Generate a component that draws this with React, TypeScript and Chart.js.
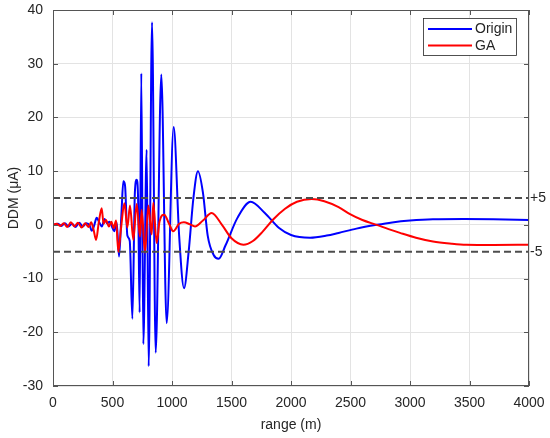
import React, { useEffect, useRef } from "react";
import { Chart, registerables } from "chart.js";

Chart.register(...registerables);

// ---- data ----
const originX = [0, 40, 70, 100, 130, 160, 190, 220, 250, 280, 310, 325, 345, 367, 390, 410, 434, 455, 475, 495, 515, 535, 555, 575, 591, 605, 625, 645, 667, 688, 703, 716, 728, 742, 759, 787, 804, 832, 863, 910, 955, 1014, 1060, 1101, 1140, 1180, 1218, 1260, 1300, 1350, 1392, 1450, 1550, 1661, 1780, 1900, 2000, 2160, 2300, 2400, 2550, 2720, 2850, 3000, 3193, 3450, 3700, 4000];
const originY = [0, 0.2, -0.2, 0.3, -0.3, 0.2, -0.4, 0.4, -0.3, 0.3, -0.2, -1.1, -0.2, 1.3, 0.4, -0.3, 1.1, 0.3, 0.6, -0.3, -1.2, 0.5, -5.9, 2, 8.1, 7.4, -2, -3, -17.5, 6, 8.4, 4, -16.3, 28.2, -22.2, 14, -26.3, 37.7, -23.8, 28, -18.3, 18.2, -2, -11.8, -5, 5, 10, 6, -2, -5.6, -6.3, -3.8, 1.3, 4.3, 2.2, -0.6, -1.9, -2.4, -2.0, -1.5, -0.7, 0, 0.45, 0.8, 1.05, 1.1, 1.05, 0.9];

const gaX = [0, 30, 60, 90, 120, 150, 180, 210, 240, 270, 300, 320, 340, 362, 385, 409, 425, 445, 470, 490, 510, 530, 549, 570, 600, 625, 647, 675, 703, 731, 745, 773, 801, 829, 843, 871, 895, 935, 975, 1011, 1060, 1100, 1150, 1193, 1260, 1333, 1420, 1500, 1600, 1680, 1760, 1850, 1950, 2050, 2174, 2280, 2400, 2496, 2600, 2720, 2820, 2916, 3050, 3193, 3350, 3473, 3700, 4000];
const gaY = [0, 0.2, -0.2, 0.3, -0.4, 0.5, -0.3, 0.4, -0.5, 0.3, -0.4, 0.5, -0.8, -2.8, 0.5, 3.1, 0.2, 0.9, -0.3, 0.6, -0.6, 0.8, -5.0, -1, 4.0, -0.5, 3.6, -2.8, 3.9, -2.2, 2.8, -5.2, 3.6, -1.8, 4.1, -3.4, 0.6, 1.9, 0.2, -1.2, 0.2, 0.5, 0.1, -0.3, 0.8, 2.2, 0, -2.5, -3.7, -3.0, -1.3, 1.0, 3.0, 4.3, 4.8, 4.4, 3.3, 2.0, 0.9, 0, -0.8, -1.5, -2.4, -3.1, -3.5, -3.7, -3.75, -3.7];

const limitValues = [5, -5];
const xRange = [0, 4000];
const yRange = [-30, 40];
const seriesLabels = ["Origin", "GA"];

const FONT = "'Liberation Sans', Arial, Helvetica, sans-serif";
const TEXT = "#262626";

const zeroPad = (s: any) => {
  s.paddingTop = 0;
  s.paddingBottom = 0;
  s.paddingLeft = 0;
  s.paddingRight = 0;
};

const framePlugin = {
  id: "frame",
  afterDatasetsDraw(chart: any) {
    const { ctx, chartArea: a, scales } = chart;
    ctx.save();
    ctx.strokeStyle = "#555555";
    ctx.lineWidth = 1;
    ctx.strokeRect(a.left + 0.5, a.top + 0.5, a.right - a.left - 1, a.bottom - a.top - 1);
    const tl = 5;
    ctx.beginPath();
    scales.x.ticks.forEach((t: any) => {
      const px = Math.round(scales.x.getPixelForValue(t.value)) + 0.5;
      ctx.moveTo(px, a.bottom);
      ctx.lineTo(px, a.bottom - tl);
      ctx.moveTo(px, a.top);
      ctx.lineTo(px, a.top + tl);
    });
    scales.y.ticks.forEach((t: any) => {
      const py = Math.round(scales.y.getPixelForValue(t.value)) + 0.5;
      ctx.moveTo(a.left, py);
      ctx.lineTo(a.left + tl, py);
      ctx.moveTo(a.right, py);
      ctx.lineTo(a.right - tl, py);
    });
    ctx.stroke();
    ctx.restore();
  },
  afterDraw(chart: any) {
    const { ctx, chartArea: a } = chart;
    const bx = a.right - 106;
    const by = a.top + 8;
    const bw = 93;
    const bh = 37;
    ctx.save();
    ctx.fillStyle = "#ffffff";
    ctx.fillRect(bx, by, bw, bh);
    ctx.strokeStyle = "#262626";
    ctx.lineWidth = 0.8;
    ctx.strokeRect(bx + 0.5, by + 0.5, bw, bh);
    ctx.font = `14px ${FONT}`;
    ctx.textBaseline = "middle";
    ctx.textAlign = "left";
    [0, 1].forEach((i) => {
      const ds = chart.data.datasets[i];
      const y = by + 11 + i * 16.5;
      ctx.strokeStyle = ds.borderColor;
      ctx.lineWidth = 2;
      ctx.beginPath();
      ctx.moveTo(bx + 5, y);
      ctx.lineTo(bx + 49, y);
      ctx.stroke();
      ctx.fillStyle = TEXT;
      ctx.fillText(ds.label, bx + 52, y + 0.5);
    });
    ctx.restore();
  },
};

export default function App() {
  const ref = useRef<HTMLCanvasElement | null>(null);

  useEffect(() => {
    if (!ref.current) return;
    const origin = originX.map((x, i) => ({ x, y: originY[i] }));
    const ga = gaX.map((x, i) => ({ x, y: gaY[i] }));
    const limits = limitValues.map((v) => ({
      label: `limit ${v}`,
      data: [
        { x: xRange[0], y: v },
        { x: xRange[1], y: v },
      ],
      borderColor: "#4d4d4d",
      borderWidth: 2,
      borderDash: [7, 4],
      pointRadius: 0,
      order: 0,
    }));

    const chart = new Chart(ref.current, {
      type: "line",
      data: {
        datasets: [
          {
            label: seriesLabels[0],
            data: origin,
            borderColor: "#0000ff",
            borderWidth: 2,
            pointRadius: 0,
            cubicInterpolationMode: "monotone",
            order: 2,
          },
          {
            label: seriesLabels[1],
            data: ga,
            borderColor: "#ff0000",
            borderWidth: 2,
            pointRadius: 0,
            cubicInterpolationMode: "monotone",
            order: 1,
          },
          ...limits,
        ] as any,
      },
      options: {
        responsive: false,
        animation: false,
        layout: { padding: { left: 6, right: 0, top: 10, bottom: 4 } },
        plugins: {
          legend: { display: false },
          tooltip: { enabled: false },
        },
        scales: {
          x: {
            type: "linear",
            min: xRange[0],
            max: xRange[1],
            afterFit: (s: any) => {
              s.height = 48;
              zeroPad(s);
            },
            ticks: {
              stepSize: 500,
              padding: 9,
              color: TEXT,
              font: { family: FONT, size: 14 },
              maxRotation: 0,
              callback: (v: any) => String(v),
            },
            grid: { color: "#e3e3e3", drawTicks: false, lineWidth: 1 },
            border: { display: false },
            title: {
              display: true,
              text: "range (m)",
              color: TEXT,
              font: { family: FONT, size: 14 },
              padding: { top: 0, bottom: 0 },
            },
          },
          y: {
            type: "linear",
            position: "left",
            min: yRange[0],
            max: yRange[1],
            afterFit: (s: any) => {
              s.width = 47;
              zeroPad(s);
            },
            ticks: {
              stepSize: 10,
              padding: 10,
              color: TEXT,
              font: { family: FONT, size: 14 },
            },
            grid: { color: "#e3e3e3", drawTicks: false, lineWidth: 1 },
            border: { display: false },
            title: {
              display: true,
              text: "DDM (μA)",
              color: TEXT,
              font: { family: FONT, size: 14 },
              padding: { top: 0, bottom: 0 },
            },
          },
          y2: {
            type: "linear",
            position: "right",
            min: yRange[0],
            max: yRange[1],
            afterFit: (s: any) => {
              s.width = 21;
              zeroPad(s);
            },
            afterBuildTicks: (s: any) => {
              s.ticks = limitValues.map((v) => ({ value: v }));
            },
            ticks: {
              padding: 1,
              color: TEXT,
              font: { family: FONT, size: 14 },
              callback: (v: any) => (Number(v) > 0 ? "+" + v : String(v)),
            },
            grid: { display: false, drawTicks: false },
            border: { display: false },
          },
        },
      },
      plugins: [framePlugin],
    } as any);

    return () => chart.destroy();
  }, []);

  return (
    <div style={{ position: "absolute", left: 0, top: 0, width: 550, height: 438, background: "#fff" }}>
      <canvas ref={ref} width={550} height={438} style={{ display: "block" }} />
    </div>
  );
}
